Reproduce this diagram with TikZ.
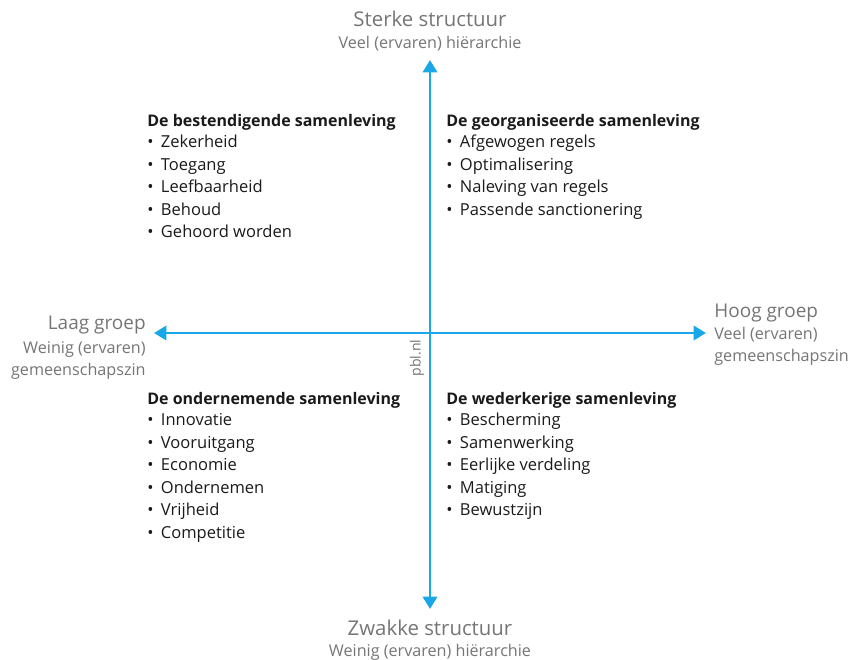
\documentclass[tikz,border=0pt]{standalone}
\usepackage{fontspec}
\setmainfont{Open Sans}
\usetikzlibrary{arrows.meta}
\definecolor{pblblue}{HTML}{1AA7E8}
\definecolor{pblgrey}{HTML}{757575}
\definecolor{pbltext}{HTML}{1A1A1A}
\tikzset{
  axis/.style={pblblue, line width=1.7pt, -{Triangle[width=8pt,length=7pt]}},
  quadtitle/.style={anchor=base west, inner sep=0, text=pbltext, font=\bfseries\fontsize{9.1}{11}\selectfont},
  quaditem/.style={anchor=base west, inner sep=0, text=pbltext, font=\fontsize{9.4}{11}\selectfont},
  axhead/.style={inner sep=0, text=pblgrey, font=\fontsize{11.6}{13}\selectfont},
  sidehead/.style={inner sep=0, text=pblgrey, font=\fontsize{10.8}{13}\selectfont},
  axsub/.style={inner sep=0, text=pblgrey, font=\fontsize{9.2}{11}\selectfont},
}
\newcommand{\bul}{\textbullet\hspace{0.45em}}
\begin{document}
\begin{tikzpicture}[x=0.02cm, y=-0.02cm]
                \useasboundingbox (0,0) rectangle (850,660);
                % axes
                \coordinate (O) at (430,333);
                \coordinate (top) at (430,60);
                \coordinate (bottom) at (430,609);
                \coordinate (left) at (154,333);
                \coordinate (right) at (706,333);
                \draw[axis] (O) -- (top);
                \draw[axis] (O) -- (bottom);
                \draw[axis] (O) -- (left);
                \draw[axis] (O) -- (right);
                % axis labels
                \node[axhead, anchor=base] (sterk) at (430,26) {Sterke structuur};
                \node[axsub, anchor=base] (sterksub) at (430,48) {Veel (ervaren) hiërarchie};
                \node[axhead, anchor=base] (zwak) at (430,635) {Zwakke structuur};
                \node[axsub, anchor=base] (zwaksub) at (430,656) {Weinig (ervaren) hiërarchie};
                \node[sidehead, anchor=base east] (laag) at (146,329) {Laag groep};
                \node[axsub, anchor=base east] (laagsub1) at (146,353) {Weinig (ervaren)};
                \node[axsub, anchor=base east] (laagsub2) at (146,375) {gemeenschapszin};
                \node[sidehead, anchor=base west] (hoog) at (714,317) {Hoog groep};
                \node[axsub, anchor=base west] (hoogsub1) at (714,339) {Veel (ervaren)};
                \node[axsub, anchor=base west] (hoogsub2) at (714,361) {gemeenschapszin};
                \node[axsub, rotate=90, font=\fontsize{8}{9}\selectfont] (pbl) at (417,358) {pbl.nl};
                % top left
                \node[quadtitle] (TL) at (147,126) {De bestendigende samenleving};
                \node[quaditem] (TL1) at (147,147.5) {\bul Zekerheid};
                \node[quaditem] (TL2) at (147,170) {\bul Toegang};
                \node[quaditem] (TL3) at (147,192.5) {\bul Leefbaarheid};
                \node[quaditem] (TL4) at (147,215) {\bul Behoud};
                \node[quaditem] (TL5) at (147,237.5) {\bul Gehoord worden};
                % top right
                \node[quadtitle] (TR) at (446,126) {De georganiseerde samenleving};
                \node[quaditem] (TR1) at (446,147.5) {\bul Afgewogen regels};
                \node[quaditem] (TR2) at (446,170) {\bul Optimalisering};
                \node[quaditem] (TR3) at (446,192.5) {\bul Naleving van regels};
                \node[quaditem] (TR4) at (446,215) {\bul Passende sanctionering};
                % bottom left
                \node[quadtitle] (BL) at (147,404) {De ondernemende samenleving};
                \node[quaditem] (BL1) at (147,425.5) {\bul Innovatie};
                \node[quaditem] (BL2) at (147,448) {\bul Vooruitgang};
                \node[quaditem] (BL3) at (147,470.5) {\bul Economie};
                \node[quaditem] (BL4) at (147,493) {\bul Ondernemen};
                \node[quaditem] (BL5) at (147,515.5) {\bul Vrijheid};
                \node[quaditem] (BL6) at (147,538) {\bul Competitie};
                % bottom right
                \node[quadtitle] (BR) at (446,404) {De wederkerige samenleving};
                \node[quaditem] (BR1) at (446,425.5) {\bul Bescherming};
                \node[quaditem] (BR2) at (446,448) {\bul Samenwerking};
                \node[quaditem] (BR3) at (446,470.5) {\bul Eerlijke verdeling};
                \node[quaditem] (BR4) at (446,493) {\bul Matiging};
                \node[quaditem] (BR5) at (446,515.5) {\bul Bewustzijn};
            \end{tikzpicture}
\end{document}
